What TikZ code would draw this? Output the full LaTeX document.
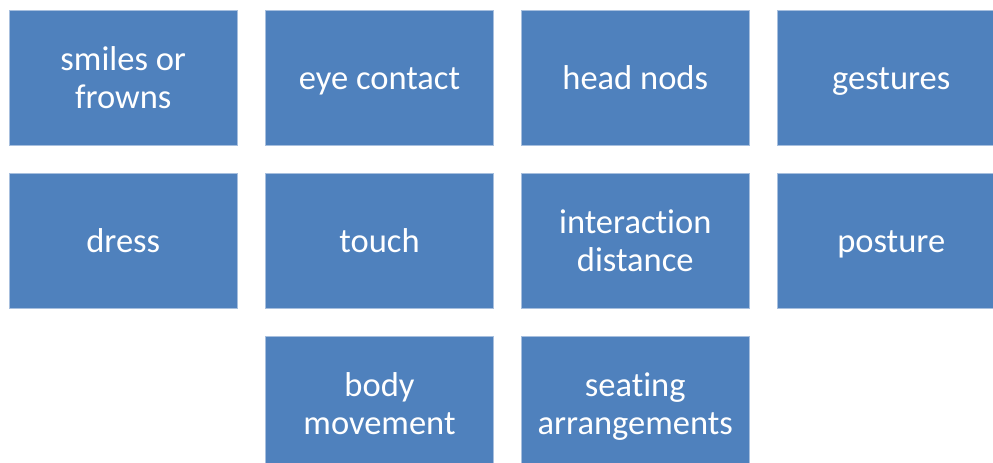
\documentclass[tikz,border=0pt]{standalone}
\usepackage{fontspec}
\setmainfont{Carlito}[Ligatures=CommonOff]
\definecolor{tileblue}{HTML}{4F81BD}
\definecolor{tileedge}{HTML}{A7BFDE}
% fixed line strut: 29pt above the baseline, 6pt below
\newcommand\lnstrut{\rule[-6pt]{0pt}{35pt}}
\tikzset{
  tile/.style={rectangle, fill=tileblue, draw=tileedge, line width=0.6pt,
    minimum width=227.5pt, minimum height=134.5pt, inner sep=0pt,
    text=white, align=center,
    font=\fontsize{34.5}{38}\selectfont},
}
\begin{document}
\begin{tikzpicture}[x=1pt,y=-1pt]
  \useasboundingbox (0,0) rectangle (993,463);
  \clip (0,0) rectangle (993,463);
  % row 1
  \node[tile] (smiles)  at (123.25,78)  {\lnstrut smiles or\\\lnstrut frowns};
  \node[tile] (eye)     at (379.5,78)   {\lnstrut eye contact};
  \node[tile] (nods)    at (635.25,78)  {\lnstrut head nods};
  \node[tile] (gest)    at (891.25,78)  {\lnstrut gestures};
  % row 2
  \node[tile] (dress)   at (123.25,241) {\lnstrut dress};
  \node[tile] (touch)   at (379.5,241)  {\lnstrut touch};
  \node[tile] (dist)    at (635.25,241) {\lnstrut interaction\\\lnstrut distance};
  \node[tile] (posture) at (891.25,241) {\lnstrut posture};
  % row 3
  \node[tile] (body)    at (379.5,404)  {\lnstrut body\\\lnstrut movement};
  \node[tile] (seat)    at (635.25,404) {\lnstrut seating\\\lnstrut arrangements};
\end{tikzpicture}
\end{document}
